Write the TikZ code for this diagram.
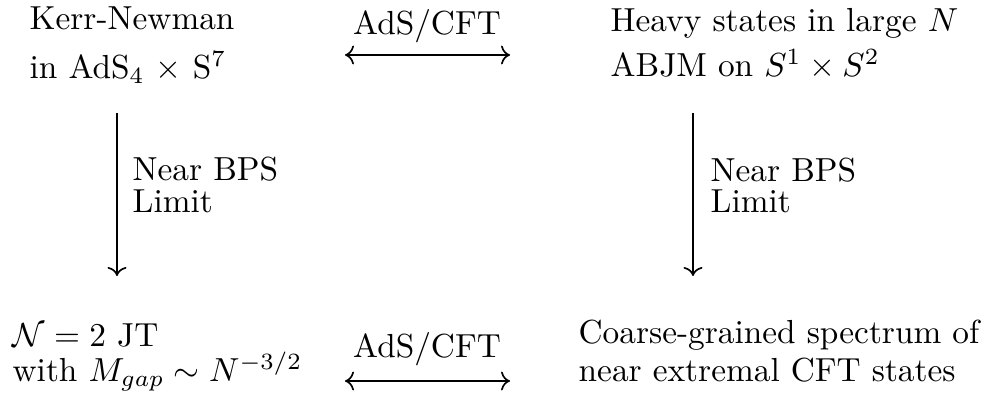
\documentclass[tikz,border=0pt]{standalone}
\usetikzlibrary{arrows.meta}
\begin{document}
\begin{tikzpicture}[x=0.3pt,y=-0.3pt,
  lbl/.style={anchor=base west,inner sep=0pt},
  lblc/.style={anchor=base,inner sep=0pt},
  down/.style={line width=0.5pt,-{Computer Modern Rightarrow}},
  both/.style={line width=0.5pt,{Computer Modern Rightarrow}-{Computer Modern Rightarrow}}]
\useasboundingbox (0,0) rectangle (990,399);
% top left
\node[lbl] (tl1) at (29,30) {Kerr-Newman};
\node[lbl] (tl2) at (29,79) {in AdS$_4$ $\times$ S$^7$};
% top right
\node[lbl] (tr1) at (610,32) {Heavy states in large $N$};
\node[lbl] (tr2) at (610,77) {ABJM on $S^1\times S^2$};
% bottom left
\node[lbl] (bl1) at (12,347) {$\mathcal{N}=2$ JT};
\node[lbl] (bl2) at (12,382) {with $M_{gap}\sim N^{-3/2}$};
% bottom right
\node[lbl] (br1) at (578,344) {Coarse-grained spectrum of};
\node[lbl] (br2) at (578,382) {near extremal CFT states};
% arrow labels
\node[lblc] (top) at (427,35) {AdS/CFT};
\node[lblc] (bot) at (427,358) {AdS/CFT};
\node[lbl] (l1) at (132,181) {Near BPS};
\node[lbl] (l2) at (132,213) {Limit};
\node[lbl] (r1) at (710,182) {Near BPS};
\node[lbl] (r2) at (710,213) {Limit};
% arrow ends
\coordinate (ta) at (345,55);
\coordinate (tb) at (510,55);
\coordinate (ba) at (345,381);
\coordinate (bb) at (510,381);
\coordinate (la) at (117,113);
\coordinate (lb) at (117,276);
\coordinate (ra) at (693,113);
\coordinate (rb) at (693,276);
\draw[both] (ta) -- (tb);
\draw[both] (ba) -- (bb);
\draw[down] (la) -- (lb);
\draw[down] (ra) -- (rb);
\end{tikzpicture}
\end{document}
